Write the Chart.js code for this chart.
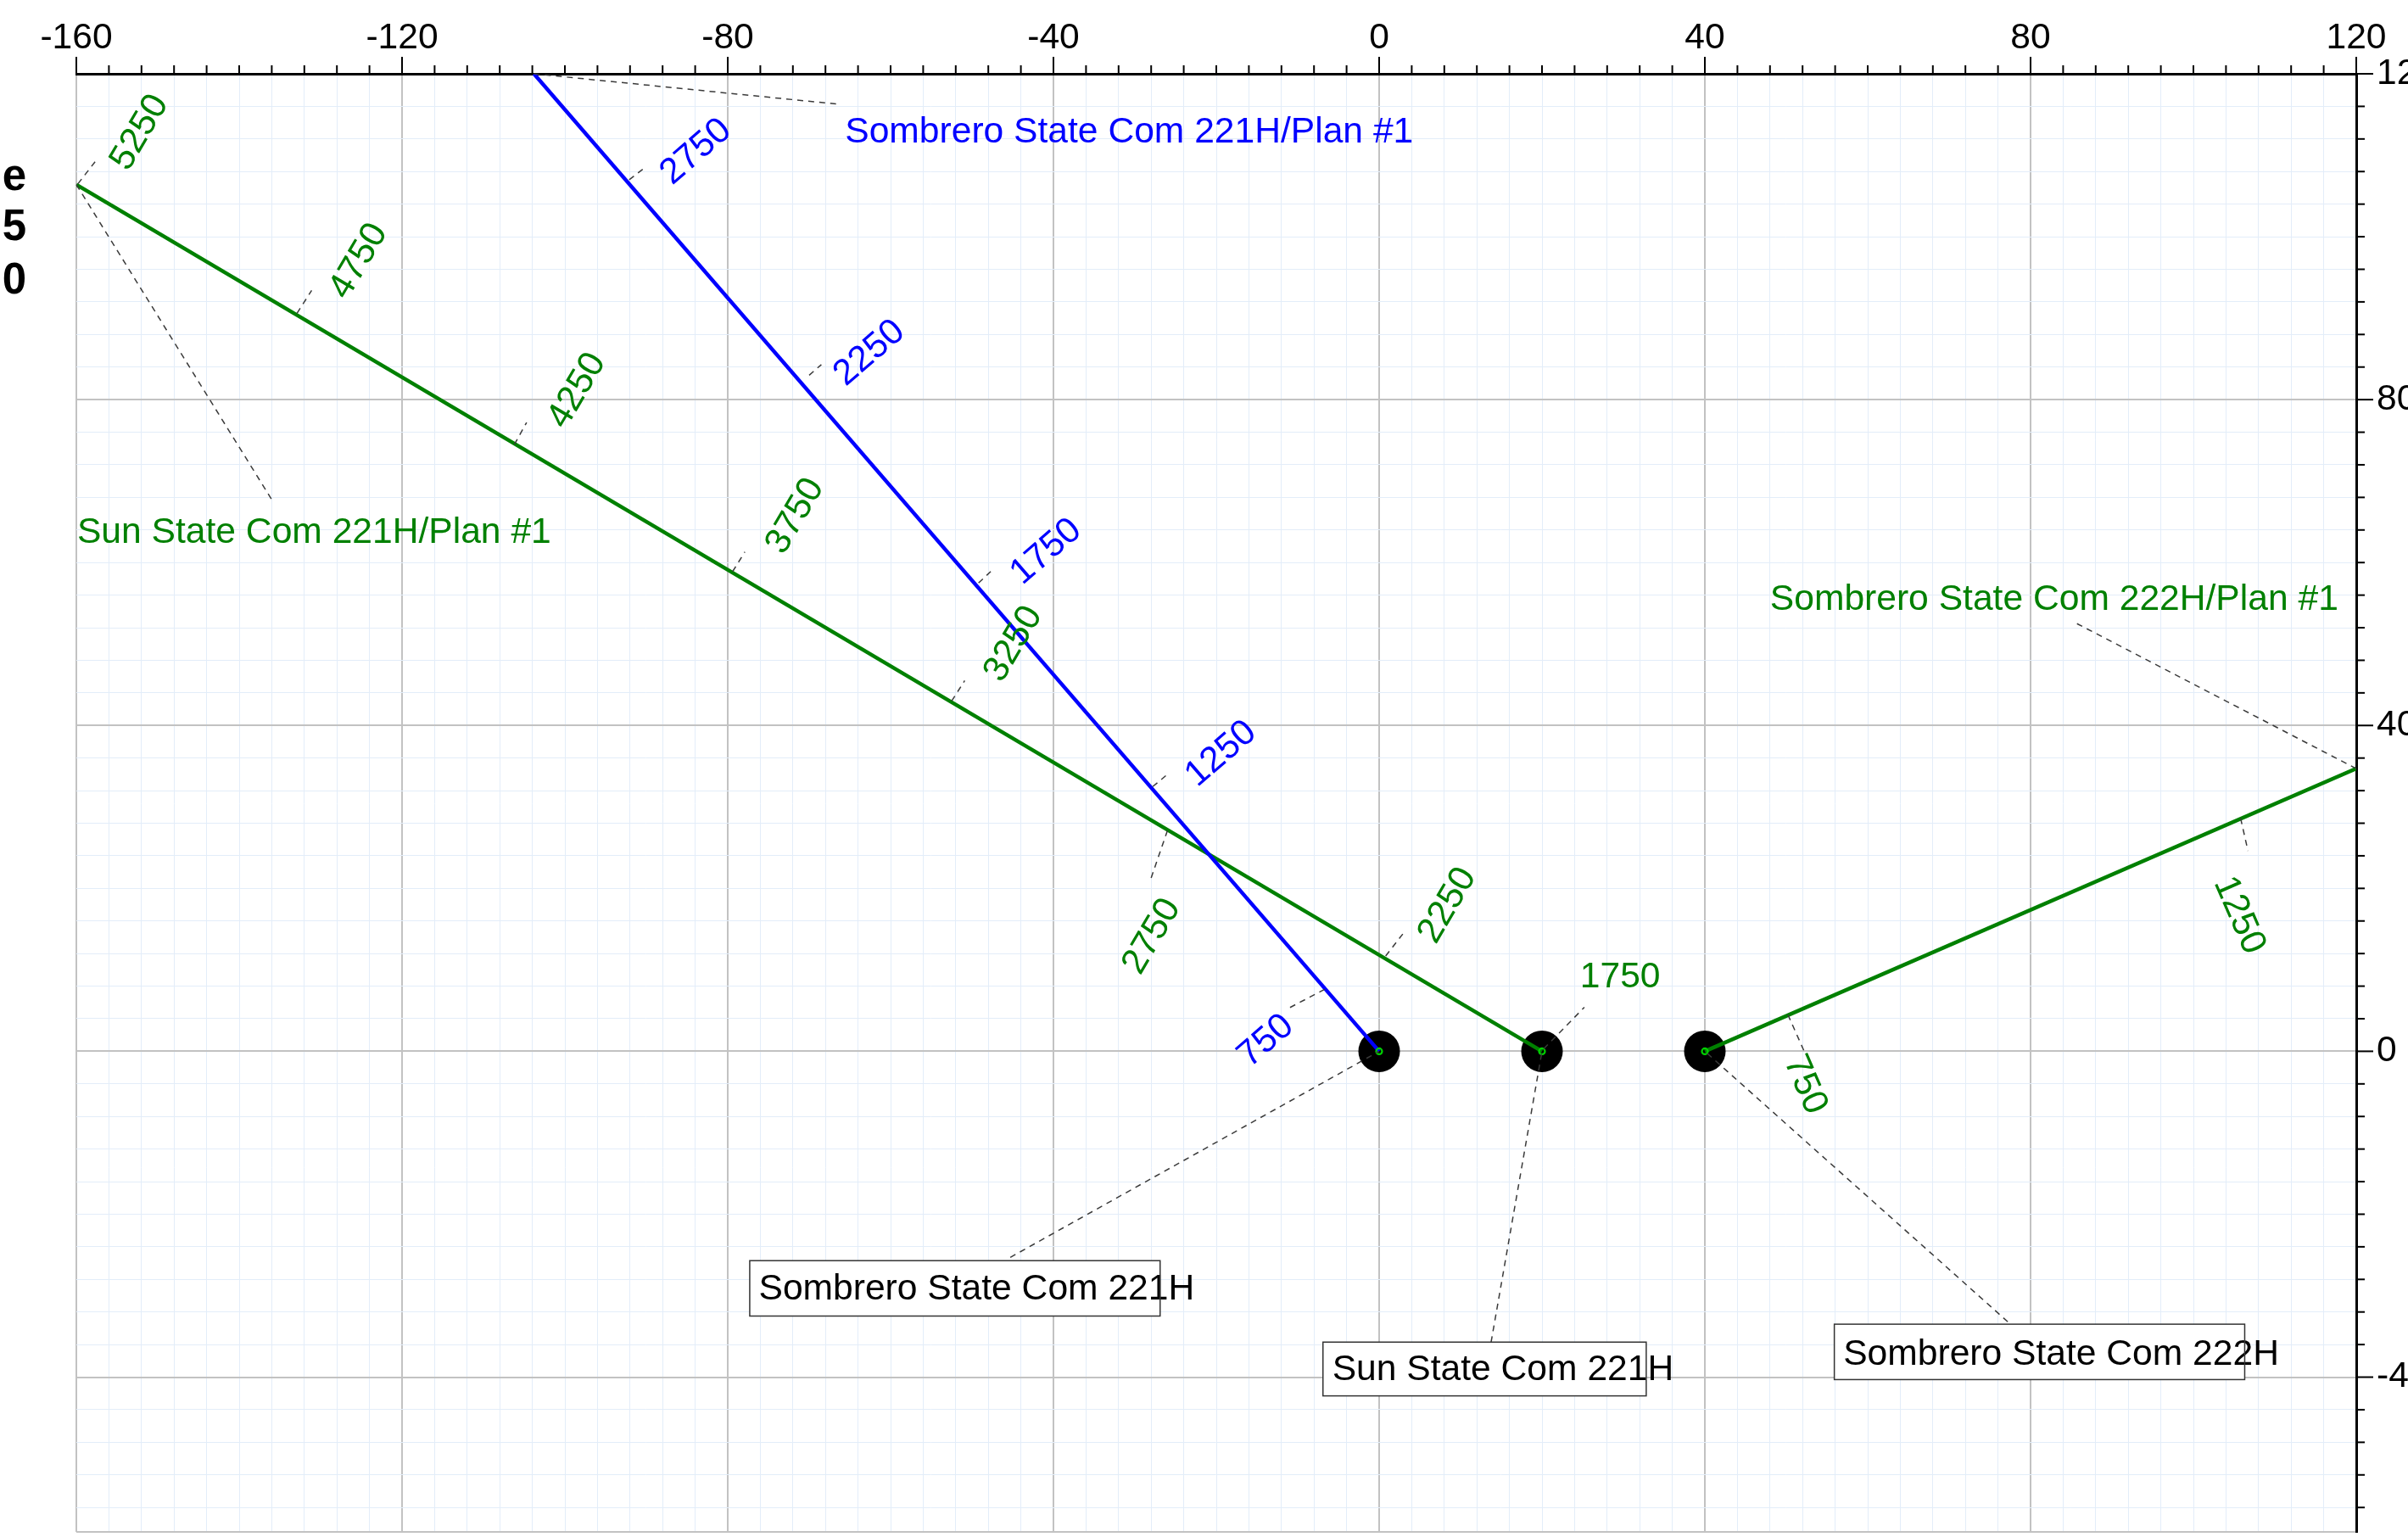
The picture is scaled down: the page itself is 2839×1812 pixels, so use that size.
<!DOCTYPE html>
<html>
<head>
<meta charset="utf-8">
<script src="https://cdn.jsdelivr.net/npm/chart.js@4.4.1/dist/chart.umd.min.js"></script>
<style>
  html, body { margin: 0; padding: 0; background: #fff; overflow: hidden; }
  canvas { display: block; }
</style>
</head>
<body>
<canvas id="plan" width="2839" height="1812"></canvas>
<script>
// axis ranges (East / North)
const eastRange = [-160, 120];
const northRange = [-59, 120];

// wells (surface locations)
const wellNames = ['Sombrero State Com 221H', 'Sun State Com 221H', 'Sombrero State Com 222H'];
const wellEast = [0, 20, 40];
const wellNorth = [0, 0, 0];

// planned trajectories
const s221East = [0, -103.8];
const s221North = [0, 120];
const sun221East = [20, -160];
const sun221North = [0, 106.4];
const s222East = [40, 120];
const s222North = [0, 34.7];

// measured depth markers along each plan
const s221Md = [750, 1250, 1750, 2250, 2750];
const s221MdEast = [-6.7, -27.8, -49.2, -70.0, -92.1];
const s221MdNorth = [7.6, 32.5, 57.5, 83.0, 107.0];

const sun221Md = [1750, 2250, 2750, 3250, 3750, 4250, 4750, 5250];
const sun221MdEast = [20.2, 0.8, -26.0, -52.5, -79.4, -106.2, -132.9, -159.8];
const sun221MdNorth = [0.3, 11.7, 27.1, 43.0, 58.9, 74.5, 90.6, 106.5];

const s222Md = [750, 1250];
const s222MdEast = [50.2, 105.8];
const s222MdNorth = [4.5, 28.6];

// where each depth label sits: leader end (E,N), text centre (E,N), flat?
const s221MdPlace = [
  [-11.1, 5.3, -13.9, 1.25], [-26.0, 34.0, -19.4, 36.5], [-47.7, 58.9, -40.9, 61.3],
  [-68.5, 84.3, -62.6, 85.7], [-90.4, 108.3, -83.9, 110.4]
];
const sun221MdPlace = [
  [25.2, 5.4, 29.6, 9.1, true], [2.9, 14.4, 8.4, 17.9], [-28.1, 21.0, -27.9, 14.1],
  [-50.9, 45.5, -44.9, 50.0], [-77.9, 61.3, -71.7, 65.7], [-104.7, 77.2, -98.5, 81.1],
  [-131.1, 93.4, -125.3, 97.0], [-157.7, 109.2, -152.2, 112.8]
];
const s222MdPlace = [
  [52.2, 0.0, 52.3, -4.1], [106.7, 24.6, 105.6, 16.7]
];

const BLUE = '#0000ff';
const GREEN = '#008000';
const FONT = '"Liberation Sans", Arial, sans-serif';
const TXT = '42.6px ' + FONT;

const pts = (xs, ys) => xs.map((v, i) => ({ x: v, y: ys[i] }));
const isMajor = v => v % 40 === 0;

function dashed(ctx, x1, y1, x2, y2) {
    ctx.save();
    ctx.strokeStyle = '#3a3a3a';
    ctx.lineWidth = 1.5;
    ctx.setLineDash([7, 6]);
    ctx.beginPath();
    ctx.moveTo(x1, y1);
    ctx.lineTo(x2, y2);
    ctx.stroke();
    ctx.restore();
}

function drawMd(ctx, xs, ys, md, east, north, place, lineE, lineN, color) {
    const dx = xs.getPixelForValue(lineE[1]) - xs.getPixelForValue(lineE[0]);
    const dy = ys.getPixelForValue(lineN[1]) - ys.getPixelForValue(lineN[0]);
    let px = -dy, py = dx;
    if (px < 0) { px = dy; py = -dx; }
    const ang = Math.atan2(py, px);
    md.forEach((d, i) => {
        const p = place[i];
        dashed(ctx, xs.getPixelForValue(east[i]), ys.getPixelForValue(north[i]),
            xs.getPixelForValue(p[0]), ys.getPixelForValue(p[1]));
        ctx.save();
        ctx.translate(xs.getPixelForValue(p[2]), ys.getPixelForValue(p[3]));
        if (!p[4]) ctx.rotate(ang);
        ctx.fillStyle = color;
        ctx.font = TXT;
        ctx.textAlign = 'center';
        ctx.textBaseline = 'middle';
        ctx.fillText(String(d), 0, 0);
        ctx.restore();
    });
}

const annotations = {
    id: 'annotations',
    afterDatasetsDraw(chart) {
        const { ctx, scales: { x, y } } = chart;
        const X = v => x.getPixelForValue(v), Y = v => y.getPixelForValue(v);

        drawMd(ctx, x, y, s221Md, s221MdEast, s221MdNorth, s221MdPlace, s221East, s221North, BLUE);
        drawMd(ctx, x, y, sun221Md, sun221MdEast, sun221MdNorth, sun221MdPlace, sun221East, sun221North, GREEN);
        drawMd(ctx, x, y, s222Md, s222MdEast, s222MdNorth, s222MdPlace, s222East, s222North, GREEN);

        // plan name labels
        const plans = [
            ['Sombrero State Com 221H/Plan #1', BLUE, s221East[1], s221North[1], -66.7, 116.3, -65.6, 111.6],
            ['Sun State Com 221H/Plan #1', GREEN, sun221East[1], sun221North[1], -135.8, 67.4, -159.9, 62.4],
            ['Sombrero State Com 222H/Plan #1', GREEN, s222East[1], s222North[1], 85.7, 52.5, 48.0, 54.2]
        ];
        plans.forEach(p => {
            dashed(ctx, X(p[2]), Y(p[3]), X(p[4]), Y(p[5]));
            ctx.save();
            ctx.fillStyle = p[1];
            ctx.font = TXT;
            ctx.textAlign = 'left';
            ctx.textBaseline = 'alphabetic';
            ctx.fillText(p[0], X(p[6]), Y(p[7]));
            ctx.restore();
        });

        // well name boxes: leader start, box (E1,N1,E2,N2), text (E,N)
        const boxes = [
            [-45.3, -25.3, -77.3, -25.7, -26.9, -32.5, -76.2, -30.5],
            [13.75, -35.7, -6.9, -35.7, 32.8, -42.3, -5.76, -40.4],
            [77.2, -33.2, 55.9, -33.5, 106.3, -40.3, 57.0, -38.5]
        ];
        boxes.forEach((b, i) => {
            dashed(ctx, X(b[0]), Y(b[1]), X(wellEast[i]), Y(wellNorth[i]));
            const bx = X(b[2]), by = Y(b[3]), bw = X(b[4]) - bx, bh = Y(b[5]) - by;
            ctx.save();
            ctx.fillStyle = '#fff';
            ctx.fillRect(bx, by, bw, bh);
            ctx.fillStyle = '#000';
            ctx.font = TXT;
            ctx.textBaseline = 'alphabetic';
            ctx.fillText(wellNames[i], X(b[6]), Y(b[7]));
            ctx.strokeStyle = '#333';
            ctx.lineWidth = 1.5;
            ctx.strokeRect(bx, by, bw, bh);
            ctx.restore();
        });
    },
    afterDraw(chart) {
        const { ctx, chartArea, scales: { x, y } } = chart;
        ctx.save();
        ctx.strokeStyle = '#000';
        ctx.fillStyle = '#000';
        ctx.lineWidth = 2;
        ctx.font = TXT;
        ctx.textAlign = 'center';
        ctx.textBaseline = 'alphabetic';
        x.ticks.forEach(t => {
            const p = x.getPixelForValue(t.value);
            const len = isMajor(t.value) ? 20 : 10;
            ctx.beginPath();
            ctx.moveTo(p, chartArea.top);
            ctx.lineTo(p, chartArea.top - len);
            ctx.stroke();
            if (isMajor(t.value)) ctx.fillText(String(t.value), p, chartArea.top - 30);
        });
        ctx.textAlign = 'left';
        ctx.textBaseline = 'middle';
        y.ticks.forEach(t => {
            if (t.value === northRange[0]) return;
            const p = y.getPixelForValue(t.value);
            const len = isMajor(t.value) ? 20 : 10;
            ctx.beginPath();
            ctx.moveTo(chartArea.right, p);
            ctx.lineTo(chartArea.right + len, p);
            ctx.stroke();
            if (isMajor(t.value)) ctx.fillText(String(t.value), chartArea.right + 24, p);
        });
        // clipped legend fragment at the left edge
        ctx.font = 'bold 51px ' + FONT;
        ctx.textAlign = 'right';
        ctx.textBaseline = 'alphabetic';
        ctx.fillText('e', 31, 224);
        ctx.fillText('5', 31, 283);
        ctx.fillText('0', 31, 346);
        ctx.restore();
    }
};

const gridColor = (max) => (c) => {
    const v = c.tick.value;
    if (v === max) return 'rgba(0,0,0,0)';
    return isMajor(v) || v === northRange[0] ? '#c2c2c2' : '#e3edf9';
};
const gridWidth = (c) => (isMajor(c.tick.value) || c.tick.value === northRange[0]) ? 2 : 1;

new Chart(document.getElementById('plan'), {
    type: 'scatter',
    data: {
        datasets: [
            {
                label: 'centre',
                data: pts(wellEast, wellNorth),
                pointRadius: 3.5,
                pointBorderColor: '#00d000',
                pointBackgroundColor: 'rgba(0,0,0,0)',
                pointBorderWidth: 2.2,
                order: 0
            },
            {
                label: 'Sombrero State Com 221H/Plan #1',
                data: pts(s221East, s221North),
                showLine: true, borderColor: BLUE, borderWidth: 4.5, pointRadius: 0, order: 1
            },
            {
                label: 'Sun State Com 221H/Plan #1',
                data: pts(sun221East, sun221North),
                showLine: true, borderColor: GREEN, borderWidth: 4.5, pointRadius: 0, order: 1
            },
            {
                label: 'Sombrero State Com 222H/Plan #1',
                data: pts(s222East, s222North),
                showLine: true, borderColor: GREEN, borderWidth: 4.5, pointRadius: 0, order: 1
            },
            {
                label: 'wells',
                data: pts(wellEast, wellNorth),
                pointRadius: 24.5,
                pointBackgroundColor: '#000',
                pointBorderWidth: 0,
                order: 2
            }
        ]
    },
    options: {
        responsive: false,
        animation: false,
        events: [],
        layout: { autoPadding: false, padding: { left: 90, right: 0, top: 0, bottom: 6 } },
        plugins: { legend: { display: false }, tooltip: { enabled: false } },
        scales: {
            x: {
                type: 'linear', position: 'top',
                min: eastRange[0], max: eastRange[1],
                afterFit: s => { s.height = 87; s.paddingLeft = 0; s.paddingRight = 0; },
                ticks: { stepSize: 4, autoSkip: false, display: false },
                grid: { color: gridColor(eastRange[1]), lineWidth: gridWidth, drawTicks: false },
                border: { display: true, color: '#000', width: 3 }
            },
            y: {
                type: 'linear', position: 'right',
                min: northRange[0], max: northRange[1],
                afterFit: s => { s.width = 61; s.paddingTop = 0; s.paddingBottom = 0; },
                ticks: { stepSize: 4, autoSkip: false, display: false },
                grid: { color: gridColor(northRange[1]), lineWidth: gridWidth, drawTicks: false },
                border: { display: true, color: '#000', width: 3 }
            }
        }
    },
    plugins: [annotations]
});
</script>
</body>
</html>
